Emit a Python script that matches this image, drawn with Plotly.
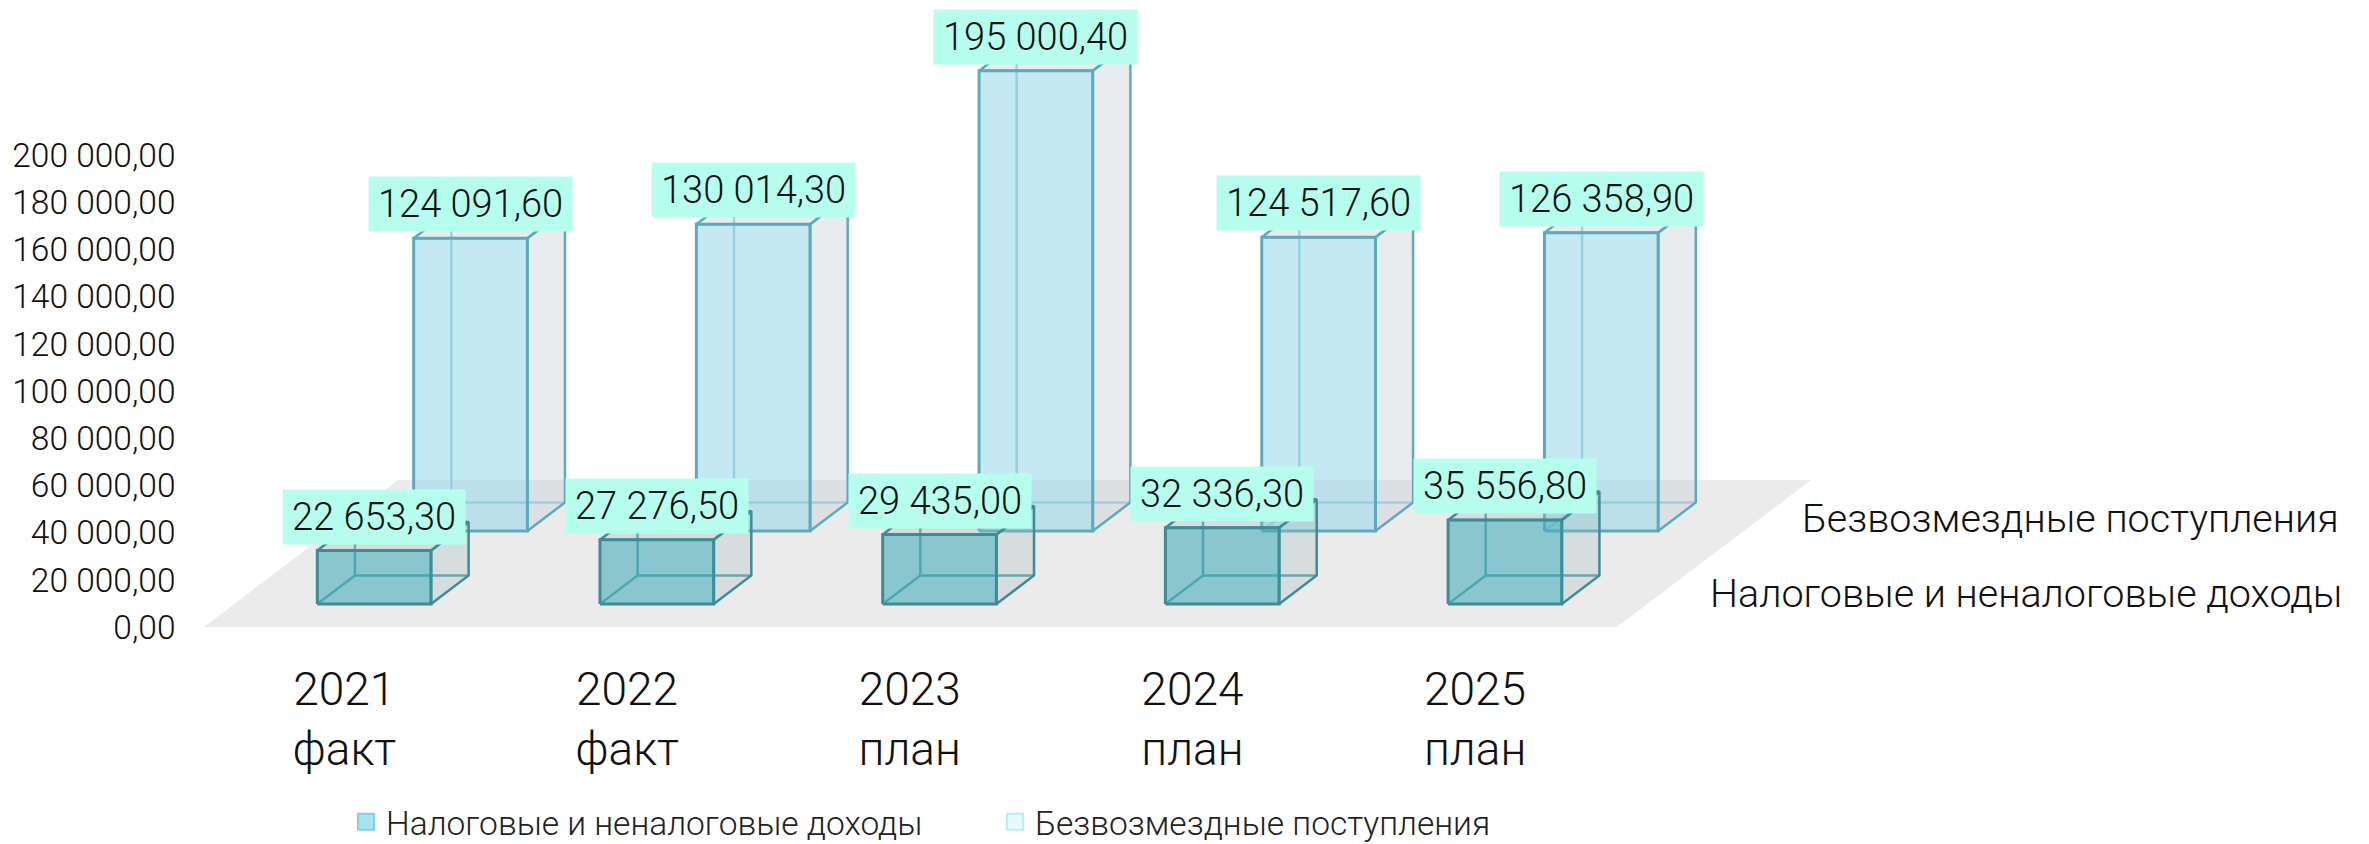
import plotly.graph_objects as go

# ---------- data ----------
categories = ["2021<br>факт", "2022<br>факт", "2023<br>план", "2024<br>план", "2025<br>план"]
series_names = ["Налоговые и неналоговые доходы", "Безвозмездные поступления"]
tax_income = [22653.30, 27276.50, 29435.00, 32336.30, 35556.80]
grants = [124091.60, 130014.30, 195000.40, 124517.60, 126358.90]
tax_labels = ["22 653,30", "27 276,50", "29 435,00", "32 336,30", "35 556,80"]
grant_labels = ["124 091,60", "130 014,30", "195 000,40", "124 517,60", "126 358,90"]
y_ticks = [0, 20000, 40000, 60000, 80000, 100000, 120000, 140000, 160000, 180000, 200000]
y_tick_labels = ["0,00", "20 000,00", "40 000,00", "60 000,00", "80 000,00", "100 000,00",
                 "120 000,00", "140 000,00", "160 000,00", "180 000,00", "200 000,00"]

# ---------- geometry of the oblique projection ----------
W, H = 2369, 844
FONT = "Roboto"
PX_PER_SLOT = 282.7
PX_PER_UNIT = 0.00236
SLOT0_PX = 317.3
ZERO_PX = 627.0
DOMAIN_L = 176.5
DOMAIN_B = 640.0
SHEAR = 1.32                       # px sideways per px of depth


def dx(px):
    return px / PX_PER_SLOT


def dv(px):
    return px / PX_PER_UNIT


BAR_W = dx(113.7)
BOX_DEPTH = 28.5
ROW_DEPTH = [23.0, 96.0]           # px of floor depth at which each row stands
LABEL_GAP = 34.0


def pt(slot, value, depth):
    """Project (slot, height value, floor depth in px) to axis coordinates."""
    return slot + dx((depth - ROW_DEPTH[0]) * SHEAR), value + dv(depth)


def poly(points):
    xs, ys = zip(*[pt(*p) for p in points])
    return list(xs) + [xs[0], None], list(ys) + [ys[0], None]


def merge(polys):
    xs, ys = [], []
    for a, b in polys:
        xs += a
        ys += b
    return xs, ys


fig = go.Figure()


def add_face(polys, fill, line, width):
    xs, ys = merge(polys)
    fig.add_trace(go.Scatter(x=xs, y=ys, mode="lines", fill="toself" if fill else "none",
                             fillcolor=fill or None, line=dict(color=line, width=width),
                             hoverinfo="skip", showlegend=False))


# floor
floor_left, floor_right = dx(204 - SLOT0_PX), dx(1617 - SLOT0_PX)
fx, fy = poly([(floor_left - dx(-23 * SHEAR), 0, 0), (floor_right - dx(-23 * SHEAR), 0, 0),
               (floor_right - dx(-23 * SHEAR), 0, 147), (floor_left - dx(-23 * SHEAR), 0, 147)])
fig.add_trace(go.Scatter(x=fx, y=fy, mode="lines", fill="toself", fillcolor="#ebebeb",
                         line=dict(width=0, color="#ebebeb"), hoverinfo="skip", showlegend=False))


def add_row(values, row, side_fill, front_fill, edge, hidden, w_edge):
    d0 = ROW_DEPTH[row]
    d1 = d0 + BOX_DEPTH
    side, top, front, back_edges = [], [], [], []
    for i, v in enumerate(values):
        a, b = i, i + BAR_W
        side.append(poly([(b, 0, d0), (b, 0, d1), (b, v, d1), (b, v, d0)]))
        top.append(poly([(a, v, d0), (a, v, d1), (b, v, d1), (b, v, d0)]))
        front.append(poly([(a, 0, d0), (b, 0, d0), (b, v, d0), (a, v, d0)]))
        for p, q in [((a, 0, d1), (b, 0, d1)), ((a, 0, d1), (a, v, d1)), ((a, 0, d0), (a, 0, d1))]:
            xs, ys = zip(pt(*p), pt(*q))
            back_edges.append((list(xs) + [None], list(ys) + [None]))
    add_face(back_edges, None, hidden, w_edge)
    add_face(side, side_fill, edge, w_edge)
    add_face(top, side_fill, edge, w_edge)
    add_face(front, front_fill, edge, w_edge + 0.5)


add_row(grants, 1, "rgba(200,210,218,0.42)", "rgba(150,215,232,0.55)", "#5aacbc", "#8ccddb", 2.5)
add_row(tax_income, 0, "rgba(162,188,188,0.30)", "rgba(73,173,187,0.60)", "#3f8b96", "#4f9fab", 2.5)

# legend entries
legend_colors = [("#a6e4f0", "#7fd2e2"), ("#e2fbfb", "#b5eef4")]
for name, (c, e) in zip(series_names, legend_colors):
    fig.add_trace(go.Scatter(x=[None], y=[None], mode="markers", name=name,
                             marker=dict(symbol="square", size=18, color=c, line=dict(color=e, width=2))))

# value labels
annotations = []
for row, (values, labels) in enumerate([(tax_income, tax_labels), (grants, grant_labels)]):
    for i, (v, t) in enumerate(zip(values, labels)):
        x, y = pt(i + BAR_W / 2, v + dv(LABEL_GAP), ROW_DEPTH[row])
        annotations.append(dict(x=x, y=y, xref="x", yref="y", text=t, showarrow=False,
                                font=dict(family=FONT, size=38, color="#111111"),
                                bgcolor="#b6ffee", borderpad=9, height=36, xanchor="center", yanchor="middle"))

# depth-axis labels
for name, cx, cy in [(series_names[1], 2070, 518), (series_names[0], 2026, 593)]:
    annotations.append(dict(x=cx / W, y=1 - cy / H, xref="paper", yref="paper", text=name, showarrow=False,
                            font=dict(family=FONT, size=39.5, color="#111111"),
                            xanchor="center", yanchor="middle"))

fig.update_layout(
    width=W, height=H, autosize=False,
    margin=dict(l=0, r=0, t=0, b=0, autoexpand=False),
    paper_bgcolor="white", plot_bgcolor="white",
    font=dict(family=FONT, color="#111111", weight=300),
    annotations=annotations,
    legend=dict(orientation="h", x=346 / W, y=1 - 822 / H, xanchor="left", yanchor="middle",
                font=dict(family=FONT, size=33.5, color="#222222"), entrywidth=604, entrywidthmode="pixels",
                itemclick=False, itemdoubleclick=False, bgcolor="rgba(0,0,0,0)"),
    xaxis=dict(domain=[DOMAIN_L / W, 1],
               range=[(DOMAIN_L - SLOT0_PX) / PX_PER_SLOT, (W - SLOT0_PX) / PX_PER_SLOT],
               tickmode="array", tickvals=[i + dx(27) for i in range(len(categories))], ticktext=categories,
               tickfont=dict(family=FONT, size=46, color="#111111"),
               showgrid=False, zeroline=False, showline=False, ticks="", automargin=False,
               ticklabelstandoff=18),
    yaxis=dict(domain=[(H - DOMAIN_B) / H, 1],
               range=[(ZERO_PX - DOMAIN_B) / PX_PER_UNIT, ZERO_PX / PX_PER_UNIT],
               tickmode="array", tickvals=y_ticks, ticktext=y_tick_labels,
               tickfont=dict(family=FONT, size=33.5, color="#111111"),
               showgrid=False, zeroline=False, showline=False, ticks="", automargin=False),
)

fig.write_html("out.html", config=dict(displayModeBar=False),
               post_script="document.body.style.margin='0';")
